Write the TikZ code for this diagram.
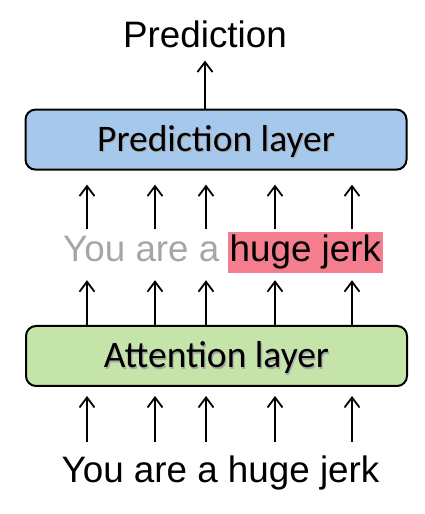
\documentclass[tikz,border=0pt]{standalone}
\usepackage{fontspec}
\setmainfont{Liberation Sans}
\newfontfamily\labelfont{Carlito}
\usetikzlibrary{arrows.meta}
\definecolor{layerblue}{RGB}{165,200,236}
\definecolor{layergreen}{RGB}{197,228,170}
\definecolor{hlpink}{RGB}{244,125,142}
\definecolor{wordgrey}{RGB}{166,166,166}
\newcommand\shadowtext[1]{%
  \makebox[0pt][l]{\hspace{1.2pt}\raisebox{-1.2pt}{\textcolor{black!35}{#1}}}#1}
\tikzset{
  layer/.style={draw, line width=2pt, rounded corners=10pt, minimum width=381pt,
    minimum height=60pt, inner sep=0pt, text height=24pt, text depth=0pt,
    font=\labelfont\fontsize{37.5}{40}\selectfont},
  words/.style={inner sep=0pt, font=\fontsize{36.8}{40}\selectfont},
  up/.style={-{Straight Barb[length=10pt,width=15pt]}, line width=1.8pt},
}

\begin{document}
\begin{tikzpicture}[x=1pt,y=1pt]
  \useasboundingbox (0,0) rectangle (425,514);
  \node [words, anchor=base] (pred) at (205,466) {Prediction};
  \node [layer, fill=layerblue] (predlayer) at (216,374.4) {\shadowtext{Prediction layer}};
  \node [words, anchor=base west, fill=hlpink, inner xsep=1.5pt, text height=30pt,
    text depth=11.6pt] (hl) at (228,252.3) {huge jerk};
  \node [words, anchor=base east, text=wordgrey] (ctx) at (219.6,252.3) {You are a};
  \node [layer, fill=layergreen] (attlayer) at (216.5,158) {\shadowtext{Attention layer}};
  \node [words, anchor=base] (input) at (220.5,31) {You are a huge jerk};

  % one column per word
  \foreach \i/\x in {1/87,2/155,3/206,4/275,5/352}
    \coordinate (c\i) at (\x,0);
  \foreach \i in {1,...,5} {
    \draw [up, shorten <=14.5pt, shorten >=9pt] (input.north -| c\i) -- (attlayer.south -| c\i);
    \draw [up, shorten >=6.7pt] (attlayer.north -| c\i) -- (hl.south -| c\i);
    \draw [up, shorten <=2.4pt, shorten >=14pt] (hl.north -| c\i) -- (predlayer.south -| c\i);
  }
  \draw [up, shorten >=12pt] (pred.south |- predlayer.north) -- (pred.south);
\end{tikzpicture}
\end{document}
